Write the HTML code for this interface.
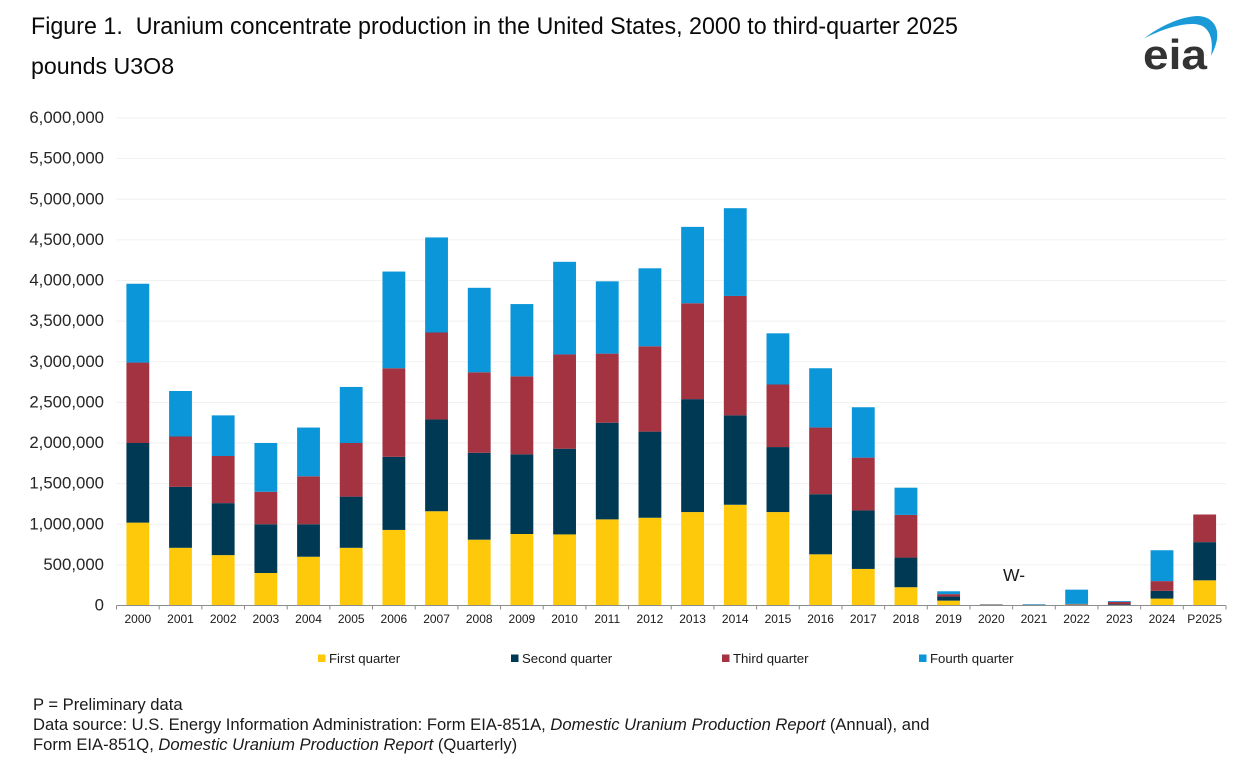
<!DOCTYPE html>
<html lang="en">
<head>
<meta charset="utf-8">
<title>Uranium concentrate production in the United States</title>
<style>
html,body{margin:0;padding:0;background:#fff;width:1253px;height:773px;overflow:hidden}
svg{display:block;font-family:"Liberation Sans",Arial,sans-serif}
</style>
</head>
<body>
<svg id="chart" xmlns="http://www.w3.org/2000/svg" width="1253" height="773" viewBox="0 0 1253 773">
  <text x="31" y="34" font-size="24" textLength="927" lengthAdjust="spacingAndGlyphs" fill="#0a0a0a">Figure 1.&#160; Uranium concentrate production in the United States, 2000 to third-quarter 2025</text>
  <text x="31" y="74" font-size="23.2" fill="#0a0a0a">pounds U3O8</text>

  <g>
    <path d="M1144 38.500 C1160 26 1180 17 1197 16 C1212 16 1219 27 1217 39 C1216 46 1213 52 1211 56 C1213 45 1212 33 1204 27 C1194 20 1168 26 1144 38.500 Z" fill="#1a9bd7"/>
    <text x="1143" y="69" font-size="42" font-weight="bold" fill="#333333" textLength="64" lengthAdjust="spacingAndGlyphs">eia</text>
  </g>

  <g id="grid"></g>
  <g id="ylabels"></g>
  <g id="bars"></g>
  <g id="xaxis"></g>

  <text x="1003" y="581" font-size="17.500" fill="#1a1a1a">W-</text>

  <g id="legend"></g>

  <g font-size="16.600" fill="#1a1a1a">
    <text x="33" y="710">P = Preliminary data</text>
    <text x="33" y="730">Data source: U.S. Energy Information Administration: Form EIA-851A, <tspan font-style="italic">Domestic Uranium Production Report</tspan> (Annual), and</text>
    <text x="33" y="750">Form EIA-851Q, <tspan font-style="italic">Domestic Uranium Production Report</tspan> (Quarterly)</text>
  </g>
</svg>
<script>
const categories = ['2000','2001','2002','2003','2004','2005','2006','2007','2008','2009','2010','2011','2012','2013','2014','2015','2016','2017','2018','2019','2020','2021','2022','2023','2024','P2025'];
const firstQuarter  = [1020000,710000,620000,400000,600000,710000,930000,1160000,810000,880000,875000,1060000,1080000,1150000,1240000,1150000,630000,450000,225000,60000,9000,3000,10000,5000,85000,310000];
const secondQuarter = [980000,750000,640000,600000,400000,630000,900000,1130000,1070000,980000,1055000,1190000,1060000,1390000,1100000,800000,740000,720000,365000,50000,3000,3000,5000,10000,95000,470000];
const thirdQuarter  = [990000,620000,580000,400000,590000,660000,1090000,1070000,990000,960000,1160000,850000,1050000,1180000,1470000,770000,820000,650000,525000,30000,2000,3000,5000,30000,120000,340000];
const fourthQuarter = [970000,560000,500000,600000,600000,690000,1190000,1170000,1040000,890000,1140000,890000,960000,940000,1080000,630000,730000,620000,335000,35000,1000,7000,175000,10000,380000,0];
const seriesNames = ['First quarter','Second quarter','Third quarter','Fourth quarter'];
const yTicks = [0,500000,1000000,1500000,2000000,2500000,3000000,3500000,4000000,4500000,5000000,5500000,6000000];

const SVG_NS = 'http://www.w3.org/2000/svg';
const seriesValues = [firstQuarter, secondQuarter, thirdQuarter, fourthQuarter];
const seriesColors = ['#ffc90b','#003953','#a33340','#0a96d8'];
const seriesKeys = ['first-quarter','second-quarter','third-quarter','fourth-quarter'];
const legendX = [318,511,722,919];

const plotLeft = 116.5, plotRight = 1226, plotBottom = 605.5, plotTop = 118;
const yMax = yTicks[yTicks.length - 1];
const step = (plotRight - plotLeft) / categories.length;
const barWidth = step * 0.535;

function yScale(v) { return plotBottom - (v / yMax) * (plotBottom - plotTop); }
function xCenter(i) { return plotLeft + step * (i + 0.5); }
function make(tag, attrs, parent) {
  const el = document.createElementNS(SVG_NS, tag);
  for (const k in attrs) el.setAttribute(k, attrs[k]);
  parent.appendChild(el);
  return el;
}

const gridG = document.getElementById('grid');
const yLabelG = document.getElementById('ylabels');
yTicks.forEach(function (t) {
  const y = yScale(t);
  if (t > 0) {
    const line = make('line', {x1: plotLeft, x2: plotRight, y1: y, y2: y, stroke: '#f1f1f1', 'stroke-width': 1}, gridG);
    
    
  }
  const label = make('text', {x: 104, y: y + 5, 'text-anchor': 'end', 'font-size': 16.8, fill: '#262626'}, yLabelG);
  
  
  label.textContent = t.toLocaleString('en-US');
});

const barsG = document.getElementById('bars');
categories.forEach(function (cat, i) {
  let cum = 0;
  seriesValues.forEach(function (vals, s) {
    const v = vals[i];
    if (v <= 0) return;
    const y1 = yScale(cum);
    const y2 = yScale(cum + v);
    const r = make('rect', {x: xCenter(i) - barWidth / 2, y: y2, width: barWidth, height: y1 - y2, fill: seriesColors[s]}, barsG);
    
    
    cum += v;
  });
});

const xG = document.getElementById('xaxis');
const axisLine = make('line', {x1: plotLeft, x2: plotRight, y1: plotBottom, y2: plotBottom, stroke: '#8c8c8c', 'stroke-width': 1}, xG);


for (let i = 0; i <= categories.length; i++) {
  const x = plotLeft + step * i;
  const tick = make('line', {x1: x, x2: x, y1: plotBottom, y2: plotBottom + 4, stroke: '#8c8c8c', 'stroke-width': 1}, xG);
  
  
}
categories.forEach(function (cat, i) {
  const label = make('text', {x: xCenter(i), y: 623, 'text-anchor': 'middle', 'font-size': 12, fill: '#1a1a1a'}, xG);
  
  
  label.textContent = cat;
});

const legendG = document.getElementById('legend');
seriesNames.forEach(function (name, s) {
  const swatch = make('rect', {x: legendX[s], y: 654.5, width: 7.5, height: 7.5, fill: seriesColors[s]}, legendG);
  
  
  const label = make('text', {x: legendX[s] + 11, y: 663, 'font-size': 13.2, fill: '#1a1a1a'}, legendG);
  
  
  label.textContent = name;
});
</script>
</body>
</html>
